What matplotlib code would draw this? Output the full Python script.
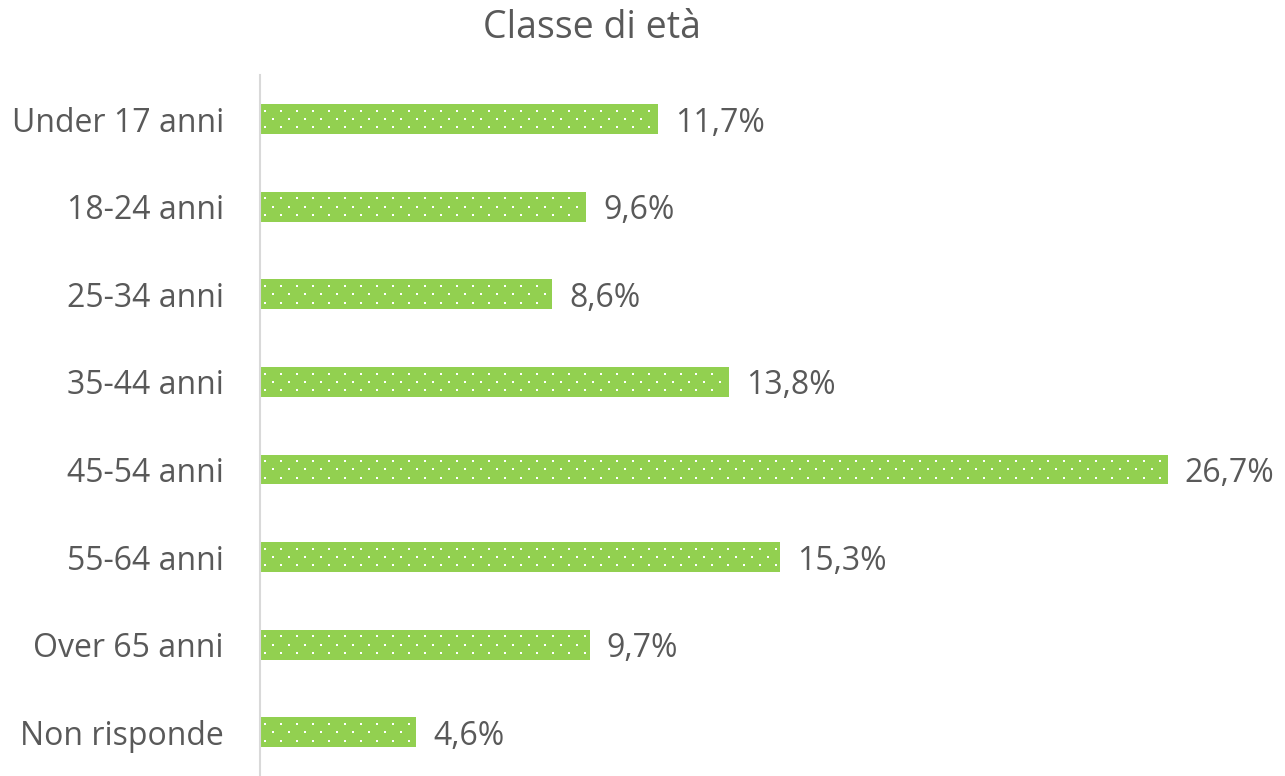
import matplotlib
matplotlib.use("Agg")
import matplotlib.pyplot as plt
import numpy as np

categories = ["Under 17 anni", "18-24 anni", "25-34 anni", "35-44 anni",
              "45-54 anni", "55-64 anni", "Over 65 anni", "Non risponde"]
values = [11.7, 9.6, 8.6, 13.8, 26.7, 15.3, 9.7, 4.6]
labels = ["11,7%", "9,6%", "8,6%", "13,8%", "26,7%", "15,3%", "9,7%", "4,6%"]

plt.rcParams["font.family"] = ["Open Sans", "DejaVu Sans"]
text_color = "#595959"
bar_color = "#92D050"

fig = plt.figure(figsize=(12.85, 7.76), dpi=100)
ax = fig.add_axes([0.2023, 0.0, 0.7977, 0.903])

y = np.arange(len(categories))
bar_h = 0.34
ax.barh(y, values, height=bar_h, color=bar_color, linewidth=0)

# dotted fill pattern (like Excel's "5% dots")
step = 0.47
row_dy = 0.095
for yi, v in zip(y, values):
    for k, dy in enumerate([-row_dy, 0, row_dy]):
        start = 0.15 if k != 1 else 0.15 + step / 2
        xs = np.arange(start, v - 0.05, step)
        ax.scatter(xs, np.full_like(xs, yi + dy), s=2.5, marker="s",
                   color="white", linewidths=0, zorder=3)

for yi, v, lab in zip(y, values, labels):
    ax.text(v + 0.5, yi, lab, va="center_baseline", ha="left", fontsize=23,
            color=text_color)

ax.set_xlim(0, 30.15)
ax.set_ylim(len(categories) - 0.5, -0.5)
ax.set_yticks(y)
ax.set_yticklabels(categories, fontsize=23, color=text_color)
ax.tick_params(axis="y", length=0, pad=26)
ax.set_xticks([])
for side in ["top", "right", "bottom"]:
    ax.spines[side].set_visible(False)
ax.spines["left"].set_color("#D9D9D9")
ax.spines["left"].set_linewidth(1.5)

fig.text(0.4607, 0.964, "Classe di età", ha="center", va="center",
         fontsize=27, color=text_color)

fig.savefig("out.png", dpi=100)
